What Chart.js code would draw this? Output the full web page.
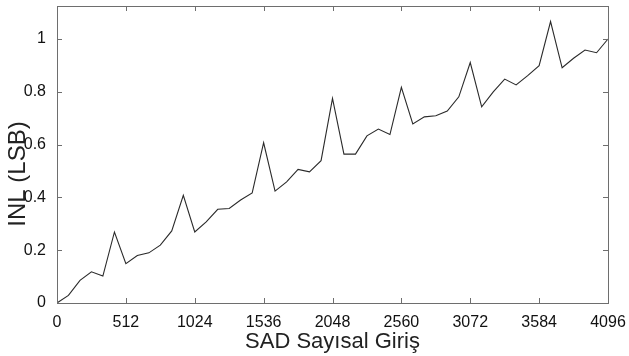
<!DOCTYPE html>
<html>
<head>
<meta charset="utf-8">
<script src="https://cdn.jsdelivr.net/npm/chart.js@4/dist/chart.umd.min.js"></script>
<style>
  html, body { margin: 0; padding: 0; background: #fff; }
  #wrap { width: 629px; height: 356px; }
</style>
</head>
<body>
<div id="wrap"><canvas id="chartInl" width="629" height="356"></canvas></div>
<script>
// --- datos ---
// codigo de entrada del SAD (49 puntos)
const girisKodu = [
  0, 85, 171, 256, 341, 427, 512, 597, 683, 768, 853, 939, 1024,
  1109, 1195, 1280, 1365, 1451, 1536, 1621, 1707, 1792, 1877, 1963, 2048,
  2133, 2219, 2304, 2389, 2475, 2560, 2645, 2731, 2816, 2901, 2987, 3072,
  3157, 3243, 3328, 3413, 3499, 3584, 3669, 3755, 3840, 3925, 4011, 4096
];
// INL en LSB
const inlDegerleri = [
  0, 0.029, 0.086, 0.118, 0.102, 0.269, 0.149, 0.18, 0.19, 0.219, 0.273, 0.408, 0.269,
  0.307, 0.355, 0.358, 0.39, 0.417, 0.607, 0.424, 0.459, 0.506, 0.497, 0.539, 0.775,
  0.564, 0.564, 0.633, 0.659, 0.638, 0.817, 0.678, 0.705, 0.709, 0.727, 0.781, 0.911,
  0.743, 0.80, 0.848, 0.826, 0.861, 0.899, 1.066, 0.891, 0.927, 0.958, 0.948, 1.0
];
const xTikleri = [0, 512, 1024, 1536, 2048, 2560, 3072, 3584, 4096];
const yTikleri = [0, 0.2, 0.4, 0.6, 0.8, 1];

const fontFamily = "'Liberation Sans', Arial, Helvetica, sans-serif";
const tickFont = { family: fontFamily, size: 16 };

// marco tipo MATLAB con marcas hacia adentro + etiqueta Y
const marcoPlugin = {
  id: 'marco',
  afterDatasetsDraw(chart) {
    const { ctx, chartArea: a, scales } = chart;
    ctx.save();
    ctx.strokeStyle = '#6e6e6e';
    ctx.lineWidth = 1;
    ctx.strokeRect(a.left + 0.5, a.top + 0.5, a.right - a.left, a.bottom - a.top);
    const L = 5;
    ctx.beginPath();
    xTikleri.forEach(v => {
      const px = Math.round(scales.x.getPixelForValue(v)) + 0.5;
      ctx.moveTo(px, a.bottom); ctx.lineTo(px, a.bottom - L);
      ctx.moveTo(px, a.top); ctx.lineTo(px, a.top + L);
    });
    yTikleri.forEach(v => {
      const py = Math.round(scales.y.getPixelForValue(v)) + 0.5;
      ctx.moveTo(a.left, py); ctx.lineTo(a.left + L, py);
      ctx.moveTo(a.right, py); ctx.lineTo(a.right - L, py);
    });
    ctx.stroke();
    ctx.restore();
  },
  afterDraw(chart) {
    const { ctx } = chart;
    ctx.save();
    ctx.translate(18, 174);
    ctx.rotate(-Math.PI / 2);
    ctx.fillStyle = '#222';
    ctx.font = '24px ' + fontFamily;
    ctx.textAlign = 'center';
    ctx.textBaseline = 'middle';
    ctx.fillText('INL (LSB)', 0, 0);
    ctx.restore();
  }
};

new Chart(document.getElementById('chartInl'), {
  type: 'line',
  data: {
    datasets: [{
      data: girisKodu.map((x, i) => ({ x: x, y: inlDegerleri[i] })),
      borderColor: '#2a2a2a',
      borderWidth: 1.1,
      pointRadius: 0,
      tension: 0,
      fill: false
    }]
  },
  options: {
    responsive: false,
    animation: false,
    layout: { padding: { top: 6, right: 21, left: 0, bottom: 0 } },
    plugins: { legend: { display: false }, tooltip: { enabled: false } },
    scales: {
      x: {
        type: 'linear',
        min: 0, max: 4096,
        afterBuildTicks: s => { s.ticks = xTikleri.map(v => ({ value: v })); },
        afterFit: s => { s.height = 53; s.paddingLeft = 0; s.paddingRight = 0; },
        grid: { display: false },
        border: { display: false },
        ticks: { color: '#111', font: tickFont, padding: 2, maxRotation: 0, autoSkip: false, callback: v => String(v) },
        title: {
          display: true, text: 'SAD Sayısal Giriş', color: '#222',
          font: { family: fontFamily, size: 22 }, padding: { top: 0, bottom: 1 }
        }
      },
      y: {
        min: 0, max: 1.125,
        afterBuildTicks: s => { s.ticks = yTikleri.map(v => ({ value: v })); },
        afterFit: s => { s.width = 57; s.paddingTop = 0; s.paddingBottom = 0; },
        grid: { display: false },
        border: { display: false },
        ticks: { color: '#111', font: tickFont, padding: 3, autoSkip: false, callback: v => String(v) }
      }
    }
  },
  plugins: [marcoPlugin]
});
</script>
</body>
</html>
